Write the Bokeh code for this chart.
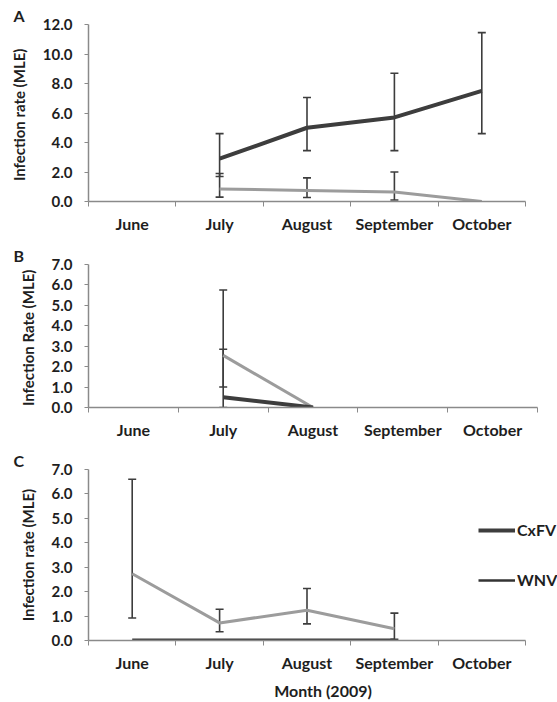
from bokeh.plotting import figure
from bokeh.models import (Range1d, FixedTicker, Whisker, TeeHead, ColumnDataSource,
                          Title, Legend, LegendItem, PrintfTickFormatter)
from bokeh.layouts import column
from bokeh.embed import file_html
from bokeh.resources import INLINE

nan = float("nan")
months = ["June", "July", "August", "September", "October"]

# Panel A
a_cxfv = [nan, 2.9, 5.0, 5.7, 7.5]
a_cxfv_lo = [nan, 1.7, 3.45, 3.45, 4.6]
a_cxfv_hi = [nan, 4.6, 7.05, 8.7, 11.45]
a_wnv = [nan, 0.85, 0.75, 0.65, 0.0]
a_wnv_lo = [nan, 0.3, 0.27, 0.1, nan]
a_wnv_hi = [nan, 1.9, 1.6, 2.0, nan]

# Panel B
b_cxfv = [nan, 0.5, 0.0, nan, nan]
b_cxfv_lo = [nan, 0.0, nan, nan, nan]
b_cxfv_hi = [nan, 2.85, nan, nan, nan]
b_wnv = [nan, 2.55, 0.0, nan, nan]
b_wnv_lo = [nan, 1.0, nan, nan, nan]
b_wnv_hi = [nan, 5.75, nan, nan, nan]

# Panel C
c_cxfv = [0.0, 0.0, 0.0, 0.0, nan]
c_wnv = [2.73, 0.72, 1.24, 0.48, nan]
c_wnv_lo = [0.92, 0.36, 0.68, 0.05, nan]
c_wnv_hi = [6.6, 1.28, 2.13, 1.12, nan]

a_yticks = [0, 2, 4, 6, 8, 10, 12]
bc_yticks = [0, 1, 2, 3, 4, 5, 6, 7]

FONT = "Lato"
DARK = "#3d3d3d"
GRAY = "#9c9c9c"
AXIS = "#8a8a8a"
TXT = "#1e1e1e"

W = 557
LEFT = 88
xs = [i + 0.5 for i in range(len(months))]


def make_panel(letter, ylabel, ymax, yticks, cx, cx_lo, cx_hi, wn, wn_lo, wn_hi,
               height, bt, bb, axis_px, xlabel=None):
    # frame spans to the right edge; the axis itself covers only the months
    n = len(months)
    x_end = n * (W - LEFT) / axis_px
    p = figure(width=W, height=height, output_backend="svg", toolbar_location=None,
               x_range=Range1d(0, x_end), y_range=Range1d(0, ymax),
               min_border_left=LEFT, min_border_right=0, min_border_top=bt,
               min_border_bottom=bb)
    p.outline_line_color = None
    p.xgrid.visible = False
    p.ygrid.visible = False
    p.background_fill_color = "white"

    p.line(xs, wn, line_color=GRAY, line_width=3)
    p.line(xs, cx, line_color=DARK, line_width=4)

    for vals, lo, hi in ((cx, cx_lo, cx_hi), (wn, wn_lo, wn_hi)):
        keep = [i for i in range(n) if lo[i] == lo[i] and hi[i] == hi[i]]
        if not keep:
            continue
        src = ColumnDataSource(dict(x=[xs[i] for i in keep], lo=[lo[i] for i in keep],
                                    hi=[hi[i] for i in keep]))
        w = Whisker(source=src, base="x", lower="lo", upper="hi", line_color=DARK,
                    line_width=1.6,
                    upper_head=TeeHead(size=8, line_color=DARK, line_width=1.6),
                    lower_head=TeeHead(size=8, line_color=DARK, line_width=1.6))
        p.add_layout(w)

    xa = p.xaxis[0]
    xa.bounds = (0, n)
    xa.ticker = FixedTicker(ticks=xs, minor_ticks=list(range(n + 1)))
    xa.major_label_overrides = {x: m for x, m in zip(xs, months)}
    xa.major_tick_line_color = None
    xa.major_tick_out = 0
    xa.major_tick_in = 0
    xa.minor_tick_line_color = AXIS
    xa.minor_tick_out = 5
    xa.minor_tick_in = 0
    xa.axis_line_color = AXIS
    xa.axis_line_width = 1.5
    xa.major_label_standoff = 7
    xa.major_label_text_font = FONT
    xa.major_label_text_font_style = "bold"
    xa.major_label_text_font_size = "16px"
    xa.major_label_text_color = TXT
    if xlabel:
        xa.axis_label = xlabel
        xa.axis_label_text_font = FONT
        xa.axis_label_text_font_style = "bold"
        xa.axis_label_text_font_size = "16px"
        xa.axis_label_text_color = TXT
        xa.axis_label_standoff = 6

    ya = p.yaxis[0]
    ya.ticker = FixedTicker(ticks=yticks)
    ya.formatter = PrintfTickFormatter(format="%.1f")
    ya.minor_tick_line_color = None
    ya.major_tick_line_color = AXIS
    ya.major_tick_out = 4
    ya.major_tick_in = 0
    ya.axis_line_color = AXIS
    ya.axis_line_width = 1.5
    ya.major_label_standoff = 12
    ya.major_label_text_font = FONT
    ya.major_label_text_font_style = "bold"
    ya.major_label_text_font_size = "15px"
    ya.major_label_text_color = TXT
    ya.axis_label = ylabel
    ya.axis_label_text_font = FONT
    ya.axis_label_text_font_style = "bold"
    ya.axis_label_text_font_size = "15px"
    ya.axis_label_text_color = TXT
    ya.axis_label_standoff = 12

    t = Title(text=letter, align="left", offset=-75, standoff=0,
              text_font=FONT, text_font_style="bold", text_font_size="16px",
              text_color=TXT)
    p.add_layout(t, "above")
    return p


pa = make_panel("A", "Infection rate  (MLE)", 12, a_yticks, a_cxfv, a_cxfv_lo, a_cxfv_hi,
                a_wnv, a_wnv_lo, a_wnv_hi, 243, 24, 42, 437)
pb = make_panel("B", "Infection Rate  (MLE)", 7, bc_yticks, b_cxfv, b_cxfv_lo, b_cxfv_hi,
                b_wnv, b_wnv_lo, b_wnv_hi, 205, 21, 41, 449)
pc = make_panel("C", "Infection rate (MLE)", 7, bc_yticks, c_cxfv, [nan] * 5, [nan] * 5,
                c_wnv, c_wnv_lo, c_wnv_hi, 254, 21, 59, 437, xlabel="Month (2009)")

# legend in panel C
r1 = pc.line(x=[nan], y=[nan], line_color=DARK, line_width=4)
r2 = pc.line(x=[nan], y=[nan], line_color="#333333", line_width=2.5)
leg = Legend(items=[LegendItem(label="CxFV", renderers=[r1]),
                    LegendItem(label="WNV", renderers=[r2])],
             location=(390, 51), orientation="vertical", spacing=31,
             glyph_width=37, glyph_height=18, label_height=18, label_standoff=2,
             padding=0, margin=0,
             border_line_color=None, background_fill_alpha=0,
             label_text_font=FONT, label_text_font_style="bold",
             label_text_font_size="16px", label_text_color=TXT)
pc.add_layout(leg)

layout = column(pa, pb, pc, spacing=0)
open("out.html", "w").write(file_html(layout, INLINE))
